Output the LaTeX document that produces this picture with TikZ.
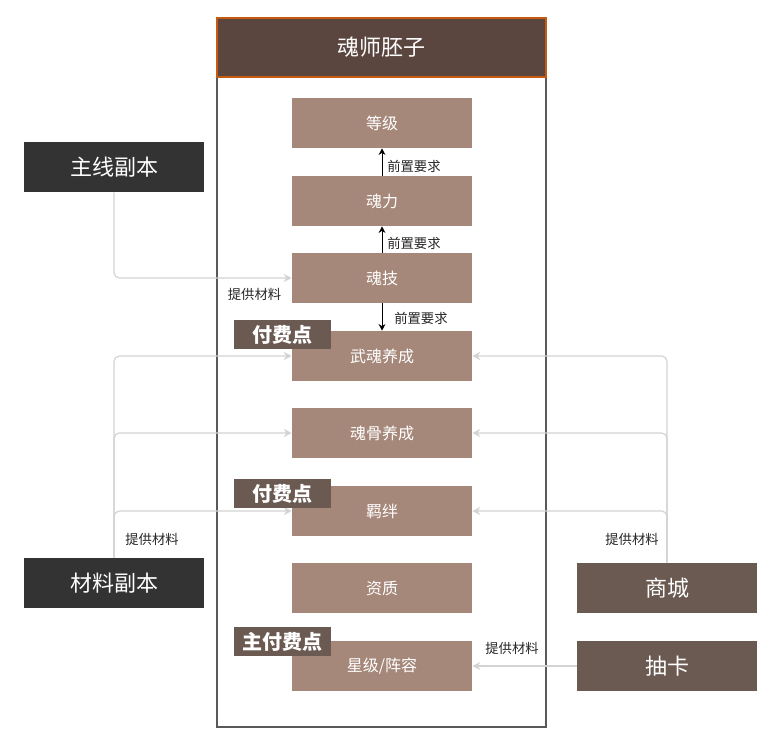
\documentclass[tikz,border=0pt]{standalone}
\usepackage{fontspec}
\setmainfont{Noto Sans CJK SC}
\usetikzlibrary{arrows.meta}
\definecolor{hdbrown}{HTML}{5B463F}
\definecolor{hdline}{HTML}{C55A11}
\definecolor{statbrown}{HTML}{A6887B}
\definecolor{tagbrown}{HTML}{6B5A52}
\definecolor{srcdark}{HTML}{333333}
\definecolor{feedgray}{HTML}{D3D3D3}
\definecolor{framegray}{HTML}{595959}

\begin{document}
\begin{tikzpicture}[x=0.75pt,y=-0.75pt,header/.style={rectangle,draw=hdline,line width=0.9pt,fill=hdbrown,minimum width=246.75pt,minimum height=44.25pt,inner sep=0pt,text=white,font=\fontsize{16.5}{19}\selectfont},stat/.style={rectangle,fill=statbrown,minimum width=135pt,minimum height=37.5pt,inner sep=0pt,text=white,font=\fontsize{12}{14}\selectfont},source/.style={rectangle,minimum width=135pt,minimum height=37.5pt,inner sep=0pt,text=white,font=\fontsize{16.5}{19}\selectfont},paytag/.style={rectangle,fill=tagbrown,minimum width=72.75pt,minimum height=21.75pt,inner sep=0pt,text=white,font=\fontsize{15}{17}\selectfont\bfseries},feed/.style={draw=feedgray,line width=0.9pt,rounded corners=4pt,-{Stealth[length=6pt,width=6pt,inset=2pt]}},prereq/.style={line width=0.7pt,-{Stealth[length=5pt,width=5pt]}},note/.style={font=\fontsize{10}{12}\selectfont,text=black!85,inner sep=0pt}]
\useasboundingbox (0,0) rectangle (770,745);
\draw[draw=framegray,line width=0.9pt] (217,18) rectangle (546,727);
\node[header] (hunshi) at (381.5,47.5) {魂师胚子};
\node[stat] (dengji) at (382,123) {等级};
\node[stat] (hunli) at (382,201) {魂力};
\node[stat] (hunji) at (382,278) {魂技};
\node[stat] (wuhun) at (382,356) {武魂养成};
\node[stat] (hungu) at (382,433) {魂骨养成};
\node[stat] (jiban) at (382,511) {羁绊};
\node[stat] (zizhi) at (382,588) {资质};
\node[stat] (xingji) at (382,666) {星级/阵容};
\draw[prereq] (hunli) -- (dengji);
\draw[prereq] (hunji) -- (hunli);
\draw[prereq] (hunji) -- (wuhun);
\node[note,anchor=west] (qz1) at (387,166) {前置要求};
\node[note,anchor=west] (qz2) at (387,243) {前置要求};
\node[note,anchor=west] (qz3) at (394,318) {前置要求};
\node[source,fill=srcdark] (zhuxian) at (114,167) {主线副本};
\node[source,fill=srcdark] (cailiao) at (114,583) {材料副本};
\node[source,fill=tagbrown] (shangcheng) at (667,588) {商城};
\node[source,fill=tagbrown] (chouka) at (667,666) {抽卡};
\draw[feed] (zhuxian.south) |- (hunji.west);
\draw[feed] (cailiao.north) |- (wuhun.west);
\draw[feed] (cailiao.north) |- (hungu.west);
\draw[feed] (cailiao.north) |- (jiban.west);
\draw[feed] (shangcheng.north) |- (wuhun.east);
\draw[feed] (shangcheng.north) |- (hungu.east);
\draw[feed] (shangcheng.north) |- (jiban.east);
\draw[feed] (chouka.west) -- (xingji.east);
\node[note] (tg1) at (254.5,294) {提供材料};
\node[note] (tg2) at (152,539) {提供材料};
\node[note] (tg3) at (632,539) {提供材料};
\node[note] (tg4) at (512,648) {提供材料};
\node[paytag] (fufei1) at (282.5,334.5) {付费点};
\node[paytag] (fufei2) at (282.5,493.5) {付费点};
\node[paytag] (fufei3) at (282.5,641.5) {主付费点};
\end{tikzpicture}
\end{document}
